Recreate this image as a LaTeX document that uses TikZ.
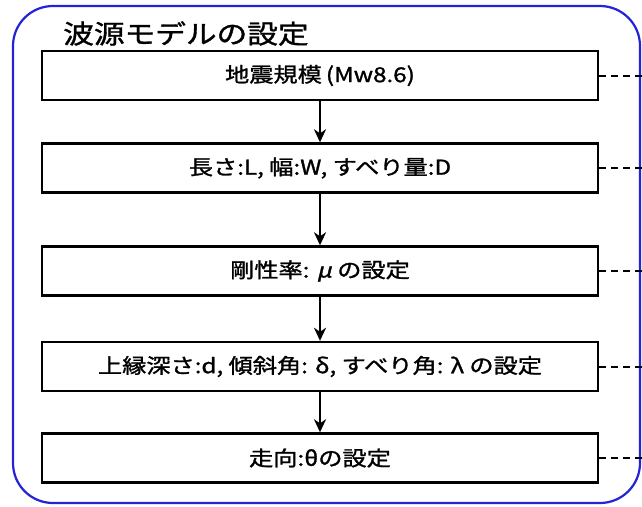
\documentclass[tikz,border=0pt]{standalone}
\usepackage{fontspec}
\newfontfamily\jpfont[FakeBold=1.2]{Noto Sans CJK JP}
\newfontfamily\jpslant[FakeBold=1.2,FakeSlant=0.2]{Noto Sans CJK JP}
\usetikzlibrary{arrows.meta}
\definecolor{frameblue}{RGB}{35,35,215}
\newcommand\hsc[1]{\scalebox{1.18}[1]{#1}}
\tikzset{
  stepbox/.style={draw=black, line width=2.4pt, fill=white, minimum width=556pt, minimum height=49pt, inner sep=0pt, font=\jpfont\fontsize{20.5}{24}\selectfont},
  flowarrow/.style={draw=black, line width=2pt, -{Stealth[length=13pt,width=12pt,inset=4pt]}},
  sidedash/.style={draw=black, line width=2pt, dash pattern=on 7pt off 5pt},
  outerframe/.style={draw=frameblue, line width=2.2pt, rounded corners=40pt},
}
\begin{document}
\begin{tikzpicture}[x=1pt,y=-1pt]
\useasboundingbox (0,0) rectangle (642,506);
\fill[white] (0,0) rectangle (642,506);
\draw[outerframe] (13,6) rectangle (640,503);
\node[anchor=base west, inner sep=0pt, font=\jpfont\fontsize{26}{30}\selectfont] (title) at (63,43.5) {\hsc{波源モデルの設定}};
\node[stepbox] (b1) at (320,75.5) {\hsc{地震規模\,(Mw8.6)}};
\node[stepbox] (b2) at (320,168) {\hsc{長さ:L, 幅:W, すべり量:D}};
\node[stepbox] (b3) at (320,271) {\hsc{剛性率: {\jpslant μ} の設定}};
\node[stepbox] (b4) at (320,366.5) {\hsc{上縁深さ:d, 傾斜角: δ, すべり角: λ の設定}};
\node[stepbox] (b5) at (320,458) {\hsc{走向:θの設定}};
\draw[flowarrow] (b1) -- (b2);
\draw[flowarrow] (b2) -- (b3);
\draw[flowarrow] (b3) -- (b4);
\draw[flowarrow] (b4) -- (b5);
\coordinate (e1) at (645,75.5);
\coordinate (e2) at (645,168);
\coordinate (e3) at (645,271);
\coordinate (e4) at (645,366.5);
\coordinate (e5) at (645,458);
\draw[sidedash] (b1.east) -- (e1);
\draw[sidedash] (b2.east) -- (e2);
\draw[sidedash] (b3.east) -- (e3);
\draw[sidedash] (b4.east) -- (e4);
\draw[sidedash] (b5.east) -- (e5);
\end{tikzpicture}
\end{document}
